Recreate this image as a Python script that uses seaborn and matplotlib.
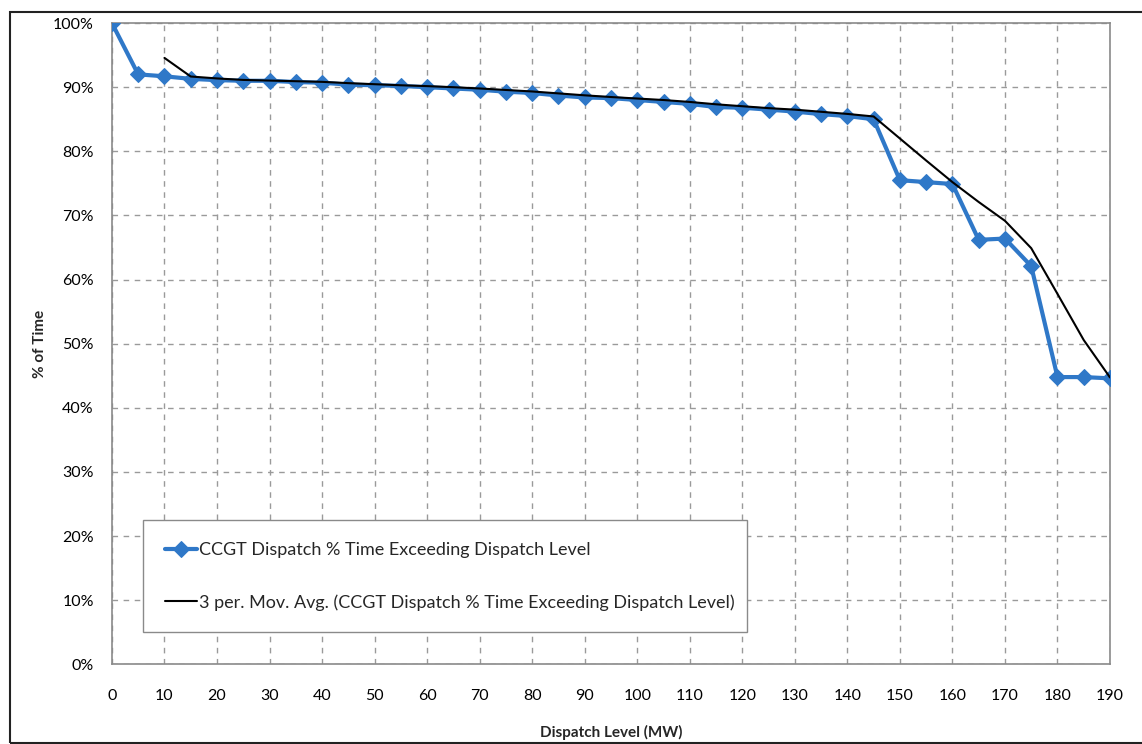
import matplotlib
matplotlib.use("Agg")
import matplotlib.pyplot as plt
import seaborn as sns
import pandas as pd
from matplotlib.patches import Rectangle
from matplotlib.ticker import FuncFormatter

# ---- data ----
dispatch_mw = [0, 5, 10, 15, 20, 25, 30, 35, 40, 45,
               50, 55, 60, 65, 70, 75, 80, 85, 90, 95,
               100, 105, 110, 115, 120, 125, 130, 135, 140, 145,
               150, 155, 160, 165, 170, 175, 180, 185, 190]
pct_time = [100.0, 92.0, 91.7, 91.3, 91.1, 91.0, 91.0, 90.8, 90.7, 90.4,
            90.3, 90.2, 90.0, 89.8, 89.6, 89.3, 89.1, 88.7, 88.4, 88.3,
            88.0, 87.7, 87.4, 86.9, 86.8, 86.5, 86.2, 85.8, 85.5, 85.0,
            75.5, 75.2, 74.9, 66.2, 66.4, 62.1, 44.8, 44.8, 44.6]
series_label = "CCGT Dispatch % Time Exceeding Dispatch Level"
ma_label = "3 per. Mov. Avg. (CCGT Dispatch % Time Exceeding Dispatch Level)"
x_ticks = list(range(0, 191, 10))
y_ticks = list(range(0, 101, 10))

df = pd.DataFrame({"mw": dispatch_mw, "pct": pct_time})
df["ma"] = df["pct"].rolling(3).mean()  # Excel 3-period moving average trendline

sns.set_style("white")
plt.rcParams["font.family"] = ["Lato", "DejaVu Sans"]

fig = plt.figure(figsize=(11.42, 7.44), dpi=100)
ax = fig.add_axes([0.098, 0.107, 0.874, 0.862])

blue = "#2F78C8"
grid_c = "#9A9A9A"

sns.lineplot(data=df, x="mw", y="pct", ax=ax, color=blue, linewidth=3.0,
             marker="D", markersize=8, markeredgecolor=blue,
             label=series_label, zorder=3)
sns.lineplot(data=df.dropna(), x="mw", y="ma", ax=ax, color="black",
             linewidth=1.5, label=ma_label, zorder=4)

ax.set_xlim(0, 190)
ax.set_ylim(0, 100)
ax.set_xticks(x_ticks)
ax.set_yticks(y_ticks)
ax.yaxis.set_major_formatter(FuncFormatter(lambda v, p: f"{v:.0f}%"))

ax.grid(True, which="major", color=grid_c, linestyle=(0, (4, 4)), linewidth=1.0)
ax.set_axisbelow(True)
for s in ax.spines.values():
    s.set_color("#8A8A8A")
    s.set_linewidth(1.2)
    s.set_visible(True)

ax.tick_params(axis="both", labelsize=11.5, colors="#8A8A8A", labelcolor="black")
ax.tick_params(axis="y", direction="out", length=5, width=1, pad=8)
ax.tick_params(axis="x", direction="inout", length=7, width=1, pad=14)

ax.set_xlabel("Dispatch Level (MW)", fontsize=11, fontweight="bold", labelpad=16)
ax.set_ylabel("% of Time", fontsize=11, fontweight="bold", labelpad=4)

leg = ax.legend(loc="lower left", bbox_to_anchor=(0.031, 0.05, 0.605, 0.18),
                mode="expand", fontsize=13, frameon=True, fancybox=False,
                edgecolor="#8A8A8A", framealpha=1.0, borderpad=1.2,
                labelspacing=2.0, handlelength=1.8, handletextpad=0.1,
                borderaxespad=0)
leg.get_frame().set_linewidth(1.0)

fig.patches.append(Rectangle((0.009, 0.002), 1.2, 0.982, transform=fig.transFigure,
                             fill=False, edgecolor="#222222", linewidth=1.5))

fig.savefig("out.png", dpi=100)
